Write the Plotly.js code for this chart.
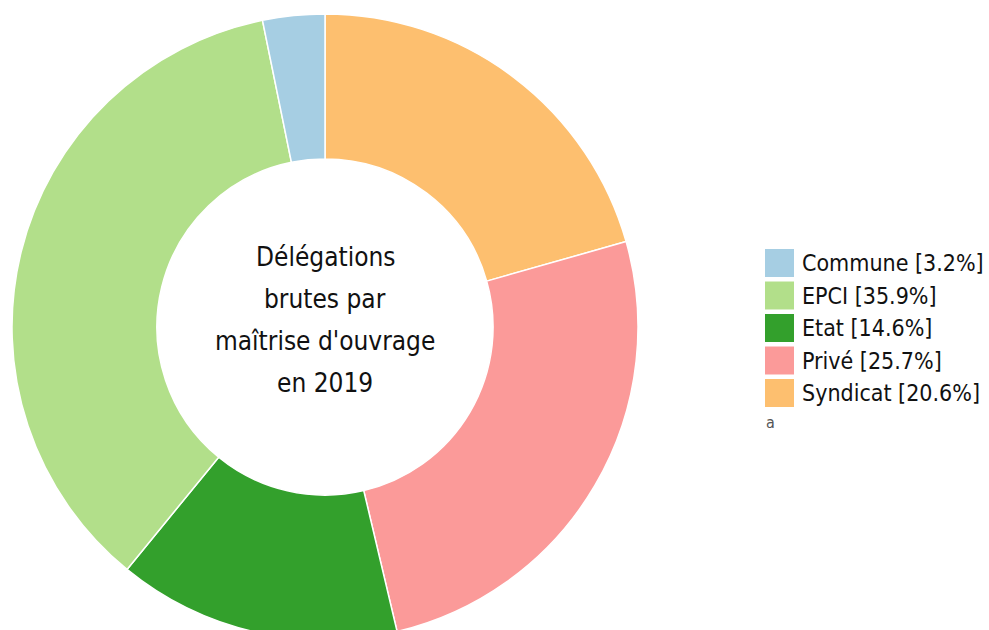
<!DOCTYPE html>
<html>
<head>
<meta charset="utf-8">
<script src="https://cdn.plot.ly/plotly-3.0.1.min.js"></script>
<style>
html,body{margin:0;padding:0;overflow:hidden;background:#fff;}
#chart{width:989px;height:640px;}
</style>
</head>
<body>
<div id="chart"></div>
<script>
// Data (legend order)
const labels = ['Commune', 'EPCI', 'Etat', 'Privé', 'Syndicat'];
const values = [3.2, 35.9, 14.6, 25.7, 20.6];
const colors = ['#a6cee3', '#b2df8a', '#33a02c', '#fb9a99', '#fdbf6f'];
const centerLines = ['Délégations', 'brutes par', "maîtrise d'ouvrage", 'en 2019'];
const strayLabel = 'a';

const W = 989, H = 640;
const FONT = '"DejaVu Sans Condensed", "DejaVu Sans", sans-serif';
const px = x => x / W;
const py = y => 1 - y / H;

const total = values.reduce((a, b) => a + b, 0);
const legendTexts = labels.map((l, i) => l + ' [' + (values[i] / total * 100).toFixed(1) + '%]');

// Slices run counterclockwise from 12 o'clock in legend order;
// drawn clockwise from the reversed arrays.
const trace = {
  type: 'pie',
  labels: labels.slice().reverse(),
  values: values.slice().reverse(),
  sort: false,
  direction: 'clockwise',
  rotation: 0,
  hole: 0.537,
  textinfo: 'none',
  marker: {colors: colors.slice().reverse(), line: {color: '#ffffff', width: 1.5}},
  domain: {x: [px(12), px(638)], y: [py(640), py(14)]},
  showlegend: false
};

const shapes = [];
const annotations = [];
labels.forEach((l, i) => {
  const top = 249 + i * 32.5;
  shapes.push({
    type: 'rect', xref: 'paper', yref: 'paper',
    x0: px(765), x1: px(794), y0: py(top + 28), y1: py(top),
    fillcolor: colors[i], line: {width: 0}
  });
  annotations.push({
    xref: 'paper', yref: 'paper', x: px(800), y: py(top + 14),
    xanchor: 'left', yanchor: 'middle', showarrow: false,
    text: legendTexts[i], font: {family: FONT, size: 23, color: '#111'}
  });
});
annotations.push({
  xref: 'paper', yref: 'paper', x: px(764), y: py(422),
  xanchor: 'left', yanchor: 'middle', showarrow: false,
  text: strayLabel, font: {family: FONT, size: 16, color: '#555'}
});
const lineY = [257, 299, 341, 383];
centerLines.forEach((t, i) => {
  annotations.push({
    xref: 'paper', yref: 'paper', x: px(325), y: py(lineY[i]),
    xanchor: 'center', yanchor: 'middle', showarrow: false,
    text: t, font: {family: FONT, size: 26, color: '#111'}
  });
});

const layout = {
  width: W, height: H,
  margin: {l: 0, r: 0, t: 0, b: 0},
  paper_bgcolor: '#fff', plot_bgcolor: '#fff',
  showlegend: false,
  shapes: shapes,
  annotations: annotations
};

Plotly.newPlot('chart', [trace], layout, {displayModeBar: false, staticPlot: true});
</script>
</body>
</html>
